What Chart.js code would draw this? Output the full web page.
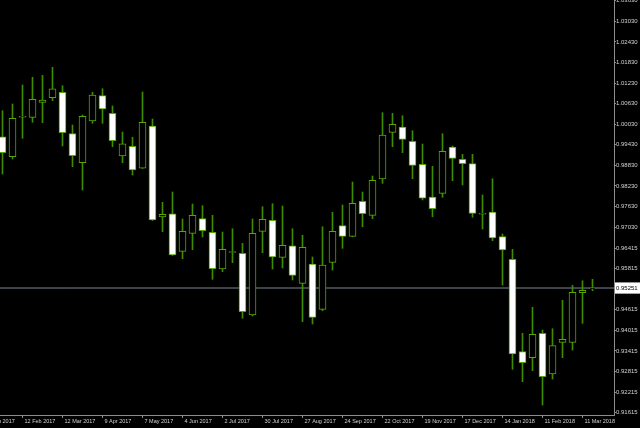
<!DOCTYPE html>
<html>
<head>
<meta charset="utf-8">
<script src="https://cdn.jsdelivr.net/npm/chart.js@4.4.1/dist/chart.umd.min.js"></script>
<style>
  html, body { margin: 0; padding: 0; background: #000; overflow: hidden; }
  #wrap { position: relative; width: 640px; height: 428px; overflow: hidden; background: #000; }
  /* canvas is wider and shifted left so the first date label can be cut off like the original */
  #candles { position: absolute; left: -18px; top: 0; }
</style>
</head>
<body>
<div id="wrap"><canvas id="candles" width="658" height="428"></canvas></div>
<script>
// weekly candles, oldest first
const opens = [0.99664, 0.99081, 1.00232, 1.00230, 1.00667, 1.00802, 1.00959, 0.99752, 0.98906, 1.00122,
  1.00860, 1.00347, 0.99101, 0.99384, 0.98743, 0.99976, 0.97322, 0.97418, 0.96322, 0.96847,
  0.97273, 0.96876, 0.95806, 0.96286, 0.96264, 0.94464, 0.96905, 0.97226, 0.96147, 0.96485,
  0.95389, 0.95951, 0.94630, 0.96001, 0.97069, 0.96759, 0.97780, 0.97372, 0.98431, 0.99792,
  0.99947, 0.99530, 0.98859, 0.97906, 0.98013, 0.99364, 0.99005, 0.98877, 0.97405, 0.97468,
  0.96748, 0.96089, 0.93394, 0.93219, 0.93930, 0.92743, 0.93668, 0.93668, 0.95114, 0.95230];
const highs = [1.00422, 1.00618, 1.01172, 1.01397, 1.01455, 1.01688, 1.01152, 1.00005, 1.00297, 1.00959,
  1.01064, 1.00560, 0.99801, 0.99647, 1.00968, 1.00180, 0.97751, 0.98051, 0.97264, 0.97701,
  0.97652, 0.97372, 0.96885, 0.96981, 0.96555, 0.97264, 0.97623, 0.97710, 0.97643, 0.96981,
  0.96789, 0.96156, 0.97039, 0.97459, 0.97672, 0.98343, 0.98051, 0.98518, 1.00364, 1.00347,
  1.00277, 0.99839, 0.99451, 0.98801, 0.99752, 0.99393, 0.99151, 0.99151, 0.97964, 0.98439,
  0.96826, 0.96380, 0.93930, 0.94689, 0.94027, 0.94065, 0.94893, 0.95330, 0.95464, 0.95505];
const lows = [0.98576, 0.99014, 0.99618, 1.00084, 1.00073, 1.00714, 0.99393, 0.98789, 0.98110, 1.00055,
  1.00055, 0.99373, 0.98906, 0.98547, 0.98737, 0.97220, 0.96894, 0.96200, 0.96106, 0.96369,
  0.96739, 0.95505, 0.95727, 0.95989, 0.94368, 0.94435, 0.96281, 0.95806, 0.95835, 0.95485,
  0.94269, 0.94202, 0.94589, 0.95776, 0.96409, 0.96745, 0.97039, 0.97273, 0.98305, 0.99373,
  0.99198, 0.98439, 0.97818, 0.97331, 0.97897, 0.98381, 0.98256, 0.97313, 0.96972, 0.96631,
  0.95339, 0.92880, 0.92519, 0.92840, 0.91839, 0.92598, 0.93219, 0.93443, 0.94222, 0.95173];
const closes = [0.99198, 1.00201, 1.00262, 1.00755, 1.00735, 1.01064, 0.99781, 0.99110, 1.00259, 1.00880,
  1.00472, 0.99548, 0.99460, 0.98693, 1.00084, 0.97235, 0.97401, 0.96214, 0.96905, 0.97372,
  0.96923, 0.95814, 0.96380, 0.96316, 0.94560, 0.96847, 0.97255, 0.96156, 0.96497, 0.95622,
  0.96439, 0.94397, 0.95922, 0.96905, 0.96759, 0.97722, 0.97418, 0.98393, 0.99714, 1.00026,
  0.99588, 0.98830, 0.97868, 0.97564, 0.99238, 0.99034, 0.98877, 0.97430, 0.97430, 0.96710,
  0.96360, 0.93327, 0.93073, 0.93901, 0.92665, 0.93569, 0.93755, 0.95126, 0.95184, 0.95251];

// date labels, one every 4 candles, first one sits 2 candles before the first visible candle
const dateLabels = ["15 Jan 2017", "12 Feb 2017", "12 Mar 2017", "9 Apr 2017", "7 May 2017", "4 Jun 2017",
  "2 Jul 2017", "30 Jul 2017", "27 Aug 2017", "24 Sep 2017", "22 Oct 2017", "19 Nov 2017",
  "17 Dec 2017", "14 Jan 2018", "11 Feb 2018", "11 Mar 2018"];
const dateIdx = dateLabels.map((_, i) => -2 + 4 * i);

const priceTicks = [1.03630, 1.03030, 1.02430, 1.01830, 1.01230, 1.00630, 1.00030, 0.99430, 0.98830,
  0.98230, 0.97630, 0.97030, 0.96415, 0.95815, 0.95251, 0.94615, 0.94015, 0.93415, 0.92815,
  0.92215, 0.91615];

const lastPrice = closes[closes.length - 1];

const green = '#55a800';
const wickGreen = '#3f8c00';
const axisGrey = '#8c8c8c';
const labelGrey = '#d2d2d2';

const xMin = -2.05, xMax = 61.15;

const bodies = opens.map((o, i) => ({ x: i, y: [o, closes[i]] }));
const wicks = lows.map((l, i) => ({ x: i, y: [l, highs[i]] }));
const bodyFill = opens.map((o, i) => closes[i] > o ? '#000000' : '#ffffff');
const priceLine = [{ x: xMin, y: lastPrice }, { x: xMax, y: lastPrice }];

const isLast = ctx => ctx.tick && Math.abs(ctx.tick.value - lastPrice) < 1e-7;

new Chart(document.getElementById('candles'), {
  type: 'bar',
  data: {
    datasets: [
      {
        type: 'line',
        data: priceLine,
        borderColor: '#7d8594',
        borderWidth: 1,
        pointRadius: 0,
        order: 3
      },
      {
        data: wicks,
        backgroundColor: wickGreen,
        barThickness: 1,
        grouped: false,
        order: 2
      },
      {
        data: bodies,
        backgroundColor: bodyFill,
        borderColor: green,
        borderWidth: 1,
        borderSkipped: false,
        barThickness: 7,
        grouped: false,
        order: 1
      }
    ]
  },
  options: {
    responsive: false,
    animation: false,
    layout: { padding: 0 },
    plugins: {
      legend: { display: false },
      tooltip: { enabled: false }
    },
    scales: {
      x: {
        type: 'linear',
        min: xMin,
        max: xMax,
        offset: false,
        grid: { display: true, offset: false, drawOnChartArea: false, drawTicks: true, tickLength: 3, color: axisGrey },
        border: { display: true, color: axisGrey, width: 1 },
        afterBuildTicks: s => { s.ticks = dateIdx.map(v => ({ value: v })); },
        afterFit: s => { s.height = 13; s.paddingLeft = 0; s.paddingRight = 0; },
        ticks: {
          autoSkip: false,
          maxRotation: 0,
          align: 'start',
          labelOffset: 2,
          padding: 0,
          color: labelGrey,
          font: { family: "'Liberation Sans', Arial, sans-serif", size: 5.5 },
          callback: v => dateLabels[dateIdx.indexOf(v)]
        }
      },
      y: {
        position: 'right',
        min: 0.91548,
        max: 1.03651,
        beginAtZero: false,
        grid: { display: true, drawOnChartArea: false, drawTicks: true, tickLength: 2, color: axisGrey },
        border: { display: true, color: axisGrey, width: 1 },
        afterBuildTicks: s => { s.ticks = priceTicks.map(v => ({ value: v })); },
        afterFit: s => { s.width = 26; s.paddingTop = 0; s.paddingBottom = 0; },
        ticks: {
          autoSkip: false,
          padding: 0,
          color: ctx => isLast(ctx) ? '#000000' : labelGrey,
          showLabelBackdrop: ctx => isLast(ctx),
          backdropColor: '#ffffff',
          backdropPadding: { top: 2, bottom: 2, left: 1, right: 3 },
          font: { family: "'Liberation Sans', Arial, sans-serif", size: 6 },
          callback: v => v.toFixed(5)
        }
      }
    }
  }
});
</script>
</body>
</html>
